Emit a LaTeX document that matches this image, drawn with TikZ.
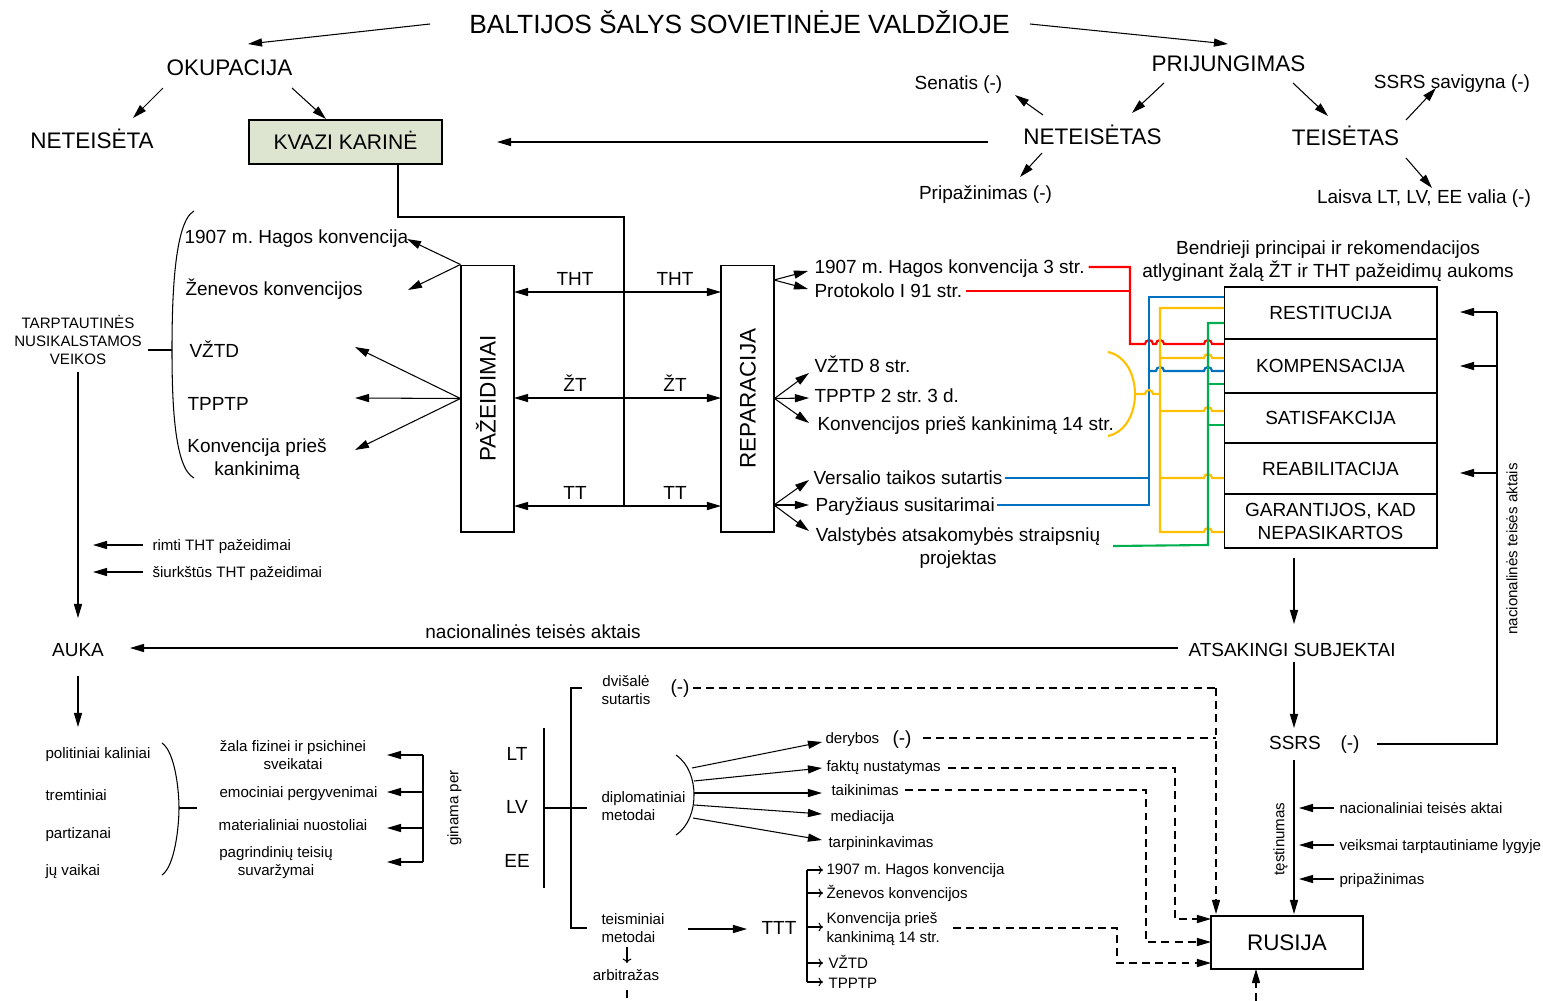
\documentclass[tikz,border=0pt]{standalone}
\usepackage{fontspec}
\setmainfont{Liberation Sans}
\usetikzlibrary{arrows.meta}
\frenchspacing

\definecolor{kvazifill}{RGB}{221,228,207}
\definecolor{linered}{RGB}{255,0,0}
\definecolor{lineblue}{RGB}{0,112,192}
\definecolor{lineyellow}{RGB}{255,192,0}
\definecolor{linegreen}{RGB}{0,176,80}

\tikzset{
  ttl/.style={inner sep=0pt, font=\fontsize{15}{18}\selectfont, text height=10.7pt, text depth=0pt},
  big/.style={inner sep=0pt, font=\fontsize{12.8}{15}\selectfont, text height=9.2pt, text depth=0pt},
  mid/.style={inner sep=0pt, font=\fontsize{10.8}{13}\selectfont, text height=7.7pt, text depth=0pt},
  mid2/.style={mid, align=center, text height=20.7pt},
  sml/.style={inner sep=0pt, font=\fontsize{8.6}{10.3}\selectfont, text height=6.2pt, text depth=0pt},
  sml2/.style={sml, align=center, text height=16.5pt},
  sml3/.style={sml, align=center, text height=26.8pt},
  arr/.style={-{Triangle[length=8pt,width=4.6pt]}},
  dblarr/.style={{Triangle[length=8pt,width=4.6pt]}-{Triangle[length=8pt,width=4.6pt]}},
  openarr/.style={-{To[length=2.5pt,width=5pt]}},
  dashln/.style={dash pattern=on 4.5pt off 3pt},
  cell/.style={draw, mid, minimum width=4.26cm, align=center},
  colln/.style={line width=1.2pt},
}

\begin{document}
\begin{tikzpicture}[x=0.02cm, y=-0.02cm, line width=0.6pt]
  \useasboundingbox (0,0) rectangle (1543,1001);

  % top
  \node[ttl] (title) at (739.5,24) {BALTIJOS ŠALYS SOVIETINĖJE VALDŽIOJE};
  \node[big] (okup) at (229.5,67) {OKUPACIJA};
  \node[big] (netta) at (92,140) {NETEISĖTA};
  \node[draw, fill=kvazifill, minimum width=3.86cm, minimum height=0.88cm, inner sep=0pt,
        font=\fontsize{12}{14}\selectfont, text height=8.6pt, text depth=0pt] (kvazi) at (345.5,142) {KVAZI KARINĖ};
  \node[big] (prij) at (1228.5,63) {PRIJUNGIMAS};
  \node[big] (nettas) at (1092.5,136) {NETEISĖTAS};
  \node[big] (teis) at (1345.5,137) {TEISĖTAS};
  \node[mid] (senat) at (958.5,83) {Senatis (-)};
  \node[mid] (pripz) at (985.5,193) {Pripažinimas (-)};
  \node[mid] (savig) at (1452,82) {SSRS savigyna (-)};
  \node[mid] (laisv) at (1424,197) {Laisva LT, LV, EE valia (-)};

  \draw[arr] (430,24) -- (248,44);
  \draw[arr] (1030,24) -- (1228,44);
  \draw[arr] (163,88) -- (133,118);
  \draw[arr] (292,88) -- (326,119);
  \draw[arr] (1164,83) -- (1132,113);
  \draw[arr] (1293,83) -- (1328,116);
  \draw[arr] (1043,115) -- (1015,95);
  \draw[arr] (1042,153) -- (1020,177);
  \draw[arr] (1406,120) -- (1436,88);
  \draw[arr] (1406,158) -- (1432,188);
  \draw[arr] (988,142) -- (497,142);
  \draw (398,164) |- (624,217) -- (624,506);

  % pazeidimai / reparacija
  \node[draw, minimum width=1.06cm, minimum height=5.34cm] (paz) at (487.5,398.5) {};
  \node[big, rotate=90] (pazl) at (paz) {PAŽEIDIMAI};
  \node[draw, minimum width=1.06cm, minimum height=5.34cm] (rep) at (747.5,398.5) {};
  \node[big, rotate=90] (repl) at (rep) {REPARACIJA};
  \foreach \y/\t/\n in {292/THT/a, 398/ŽT/b, 506/TT/c} {
    \draw[dblarr] (514,\y) -- (721,\y);
    \node[mid] (l\n) at (575,\y-13) {\t};
    \node[mid] (r\n) at (675,\y-13) {\t};
  }

  \draw[arr] (paz.north west) -- (407,239);
  \draw[arr] (paz.north west) -- (408,290);
  \foreach \yy in {347,398,450} \draw[arr] (paz.west) -- (355,\yy);
  \node[mid, anchor=west] (hag) at (184,237) {1907 m. Hagos konvencija};
  \node[mid, anchor=west] (zen) at (185,289) {Ženevos konvencijos};
  \node[mid, anchor=west] (vztd) at (189,351) {VŽTD};
  \node[mid, anchor=west] (tpptp) at (187,404) {TPPTP};
  \node[mid2] (kpk) at (257,457) {Konvencija prieš\\kankinimą};
  \draw (194,211) .. controls (174,222) and (172,300) .. (172,350) .. controls (172,400) and (174,468) .. (194,478);
  \draw (148,350) -- (172,350);

  \node[sml3] (tnv) at (78,341) {TARPTAUTINĖS\\NUSIKALSTAMOS\\VEIKOS};
  \draw[arr] (78,372) -- (78,618);
  \draw[arr] (143,545) -- (93,545);
  \node[sml, anchor=west] (rimti) at (152,545) {rimti THT pažeidimai};
  \draw[arr] (143,572) -- (93,572);
  \node[sml, anchor=west] (siurk) at (152,572) {šiurkštūs THT pažeidimai};

  \draw[arr] (774,280) -- (808,271);
  \draw[arr] (774,280) -- (808,289);
  \node[mid, anchor=west] (hag3) at (814,267) {1907 m. Hagos konvencija 3 str.};
  \node[mid, anchor=west] (prot) at (814,291) {Protokolo I 91 str.};
  \foreach \yy in {373,398,423} \draw[arr] (rep.east) -- (809,\yy);
  \node[mid, anchor=west] (vztd8) at (814,366) {VŽTD 8 str.};
  \node[mid, anchor=west] (tp23) at (814,396) {TPPTP 2 str. 3 d.};
  \node[mid, anchor=west] (kpk14) at (817,424) {Konvencijos prieš kankinimą 14 str.};
  \foreach \yy in {480,505,531} \draw[arr] (774,505) -- (809,\yy);
  \node[mid, anchor=west] (vers) at (813,478) {Versalio taikos sutartis};
  \node[mid, anchor=west] (pary) at (815,505) {Paryžiaus susitarimai};
  \node[mid2] (valst) at (958,546) {Valstybės atsakomybės straipsnių\\projektas};

  % principles
  \node[mid2] (bend) at (1328,259.5) {Bendrieji principai ir rekomendacijos\\atlyginant žalą ŽT ir THT pažeidimų aukoms};
  \node[cell, minimum height=1.04cm] (rest) at (1330.5,313) {RESTITUCIJA};
  \node[cell, minimum height=1.08cm] (komp) at (1330.5,366) {KOMPENSACIJA};
  \node[cell, minimum height=1.0cm] (satis) at (1330.5,418) {SATISFAKCIJA};
  \node[cell, minimum height=1.02cm] (reab) at (1330.5,468.5) {REABILITACIJA};
  \node[cell, text height=20.7pt, minimum height=1.08cm] (gar) at (1330.5,521) {GARANTIJOS, KAD\\NEPASIKARTOS};

  \draw[linered, colln] ([xshift=2pt]hag3.east) -| (1130,344) -- (1145,344) arc(180:360:4) -- (1156,344) arc(180:360:4) -- (1204,344) arc(180:360:4) -- (1224,344);
  \draw[linered, colln] ([xshift=2pt]prot.east) -- (1130,291);
  \draw[lineblue, colln] (1224,297) -- (1149,297) -- (1149,505) -- ([xshift=1pt]pary.east);
  \draw[lineblue, colln] ([xshift=1pt]vers.east) -- (1149,478);
  \draw[lineblue, colln] (1149,371) -- (1156,371) arc(180:360:4) -- (1204,371) arc(180:360:4) -- (1224,371);
  \draw[lineyellow, colln] (1224,308) -- (1160,308) -- (1160,532) -- (1204,532) arc(180:360:4) -- (1224,532);
  \foreach \yy in {358,411,478} \draw[lineyellow, colln] (1160,\yy) -- (1204,\yy) arc(180:360:4) -- (1224,\yy);
  \draw[lineyellow, colln] (1108,352) .. controls (1144,360) and (1144,428) .. (1108,436);
  \draw[lineyellow, colln] (1135,394) -- (1145,394) arc(180:360:4) -- (1160,394);
  \draw[linegreen, colln] (1224,323) -- (1208,323) -- (1208,545) -- ([xshift=7pt]valst.east);
  \foreach \yy in {384,425} \draw[linegreen, colln] (1208,\yy) -- (1224,\yy);

  % subjects
  \draw[arr] (1294,558) -- (1294,624);
  \node[mid] (ats) at (1292,650) {ATSAKINGI SUBJEKTAI};
  \node[mid] (auka) at (78,650) {AUKA};
  \draw[arr] (1178,648) -- (130,648);
  \node[mid] (nact) at (533,632) {nacionalinės teisės aktais};
  \draw[arr] (1294,662) -- (1294,728);
  \node[mid] (ssrs) at (1295,743) {SSRS};
  \node[mid] (ssm) at (1350,743) {(-)};
  \draw (1377,744) -- (1497,744) -- (1497,312);
  \foreach \yy in {312,366,473} \draw[arr] (1497,\yy) -- (1460,\yy);
  \node[sml, rotate=90] (nacr) at (1512,549) {nacionalinės teisės aktais};
  \draw[arr] (1294,760) -- (1294,914);
  \node[sml, rotate=90] (test) at (1279,839) {tęstinumas};
  \foreach \yy/\t/\n in {808/nacionaliniai teisės aktai/a, 845/veiksmai tarptautiniame lygyje/b, 879/pripažinimas/c} {
    \draw[arr] (1334,\yy) -- (1299,\yy);
    \node[sml, anchor=west] (sp\n) at (1339,\yy) {\t};
  }
  \node[draw, big, minimum width=3.04cm, minimum height=1.06cm] (rus) at (1287,942.5) {RUSIJA};
  \draw[dashln, arr] (1256,1001) -- (1256,969);

  % victims
  \draw[arr] (78,676) -- (78,727);
  \foreach \yy/\t/\n in {753/politiniai kaliniai/a, 795/tremtiniai/b, 833/partizanai/c, 870/jų vaikai/d}
    \node[sml, anchor=west] (v\n) at (45,\yy) {\t};
  \draw (162,743) .. controls (175,752) and (179,790) .. (179,808) .. controls (179,826) and (175,866) .. (162,875);
  \draw (179,808) -- (197,808);
  \node[sml2] (hfiz) at (293,755) {žala fizinei ir psichinei\\sveikatai};
  \node[sml] (hemo) at (298.5,792) {emociniai pergyvenimai};
  \node[sml] (hmat) at (293,825) {materialiniai nuostoliai};
  \node[sml2] (hpag) at (276,861) {pagrindinių teisių\\suvaržymai};
  \draw (423,755) -- (423,862);
  \foreach \yy in {755,792,828,862} \draw[arr] (423,\yy) -- (387,\yy);
  \node[sml, rotate=90] (gin) at (453,808) {ginama per};

  \node[mid] (lt) at (517,754) {LT};
  \node[mid] (lv) at (517,807) {LV};
  \node[mid] (ee) at (517,861) {EE};
  \draw (544,728) -- (544,888);
  \draw (544,808) -- (587,808);
  \draw (582,688) -- (571,688) -- (571,928) -- (587,928);

  % methods
  \node[sml2] (dvis) at (626,690) {dvišalė\\sutartis};
  \node[mid] (dvm) at (680,687) {(-)};
  \node[sml2, anchor=west, align=left] (dipl) at (601,806) {diplomatiniai\\metodai};
  \node[sml2, anchor=west, align=left] (teism) at (601,928) {teisminiai\\metodai};
  \draw[openarr] (627,947) -- (627,963);
  \node[sml] (arb) at (626,975) {arbitražas};
  \draw[dashln] (627,990) -- (627,1001);

  \draw (676,755) .. controls (689,764) and (694,780) .. (694,795) .. controls (694,810) and (689,826) .. (676,835);
  \draw[arr] (692,768) -- (822,742);
  \draw[arr] (694,781) -- (822,768);
  \draw[arr] (694,793) -- (822,793);
  \draw[arr] (694,805) -- (822,814);
  \draw[arr] (693,818) -- (822,840);
  \node[sml, anchor=west] (der) at (825,738) {derybos};
  \node[mid] (derm) at (902,738) {(-)};
  \node[sml, anchor=west] (fakt) at (826,766) {faktų nustatymas};
  \node[sml, anchor=west] (taik) at (831,790) {taikinimas};
  \node[sml, anchor=west] (med) at (830,816) {mediacija};
  \node[sml, anchor=west] (tarp) at (828,842) {tarpininkavimas};

  \draw[arr] (688,929) -- (747,929);
  \node[mid] (ttt) at (779,928) {TTT};
  \draw (807,870) -- (807,982);
  \foreach \yy in {870,893,927,963,982} \draw[openarr] (807,\yy) -- (823,\yy);
  \node[sml, anchor=west] (t1) at (826,869) {1907 m. Hagos konvencija};
  \node[sml, anchor=west] (t2) at (826,893) {Ženevos konvencijos};
  \node[sml2, anchor=west, align=left] (t3) at (826,927.5) {Konvencija prieš\\kankinimą 14 str.};
  \node[sml, anchor=west] (t4) at (828,963) {VŽTD};
  \node[sml, anchor=west] (t5) at (828,983) {TPPTP};

  % dashed links to Rusija
  \draw[dashln] (693,688) -- (1216,688);
  \draw[dashln, arr] (1216,688) -- (1216,914);
  \draw[dashln] (923,738) -- (1216,738);
  \draw[dashln, arr] (948,768) -| (1175,919) -- (1211,919);
  \draw[dashln, arr] (905,790) -| (1146,942) -- (1211,942);
  \draw[dashln, arr] (953,928) -| (1117,963) -- (1211,963);
\end{tikzpicture}
\end{document}
